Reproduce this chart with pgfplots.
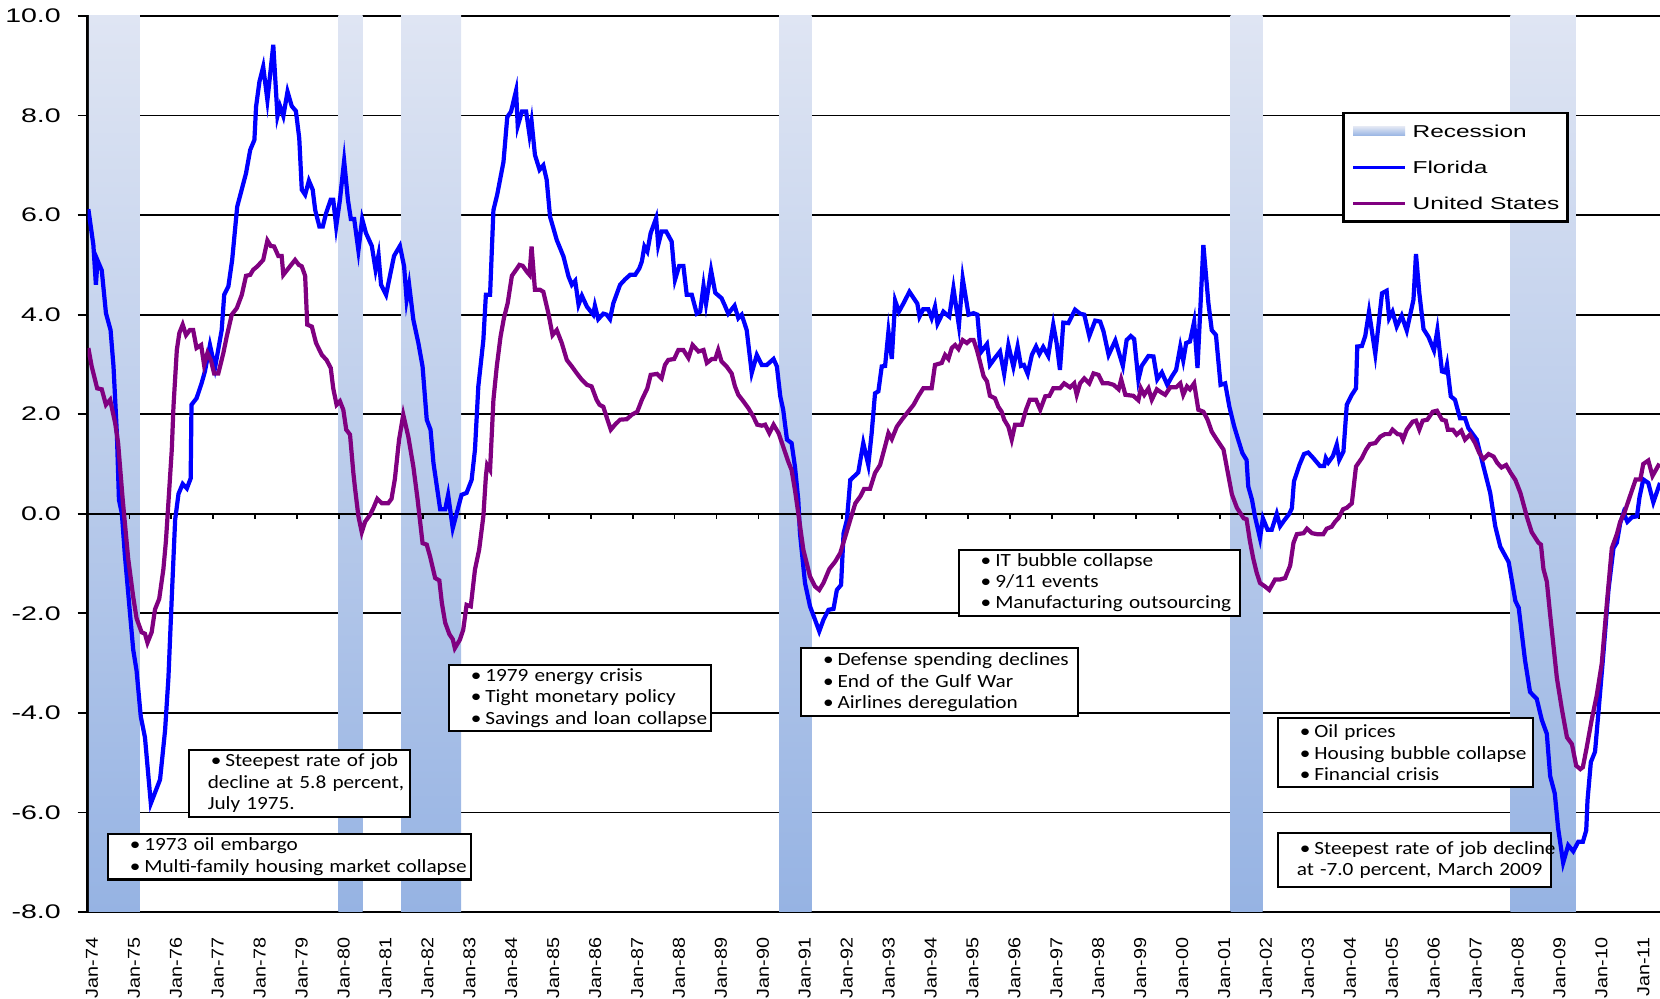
\documentclass[border=0pt]{standalone}
\usepackage{fontspec}
\setmainfont{Liberation Sans}
\newfontfamily\yfont{Liberation Sans}[FakeStretch=1.45]
\newfontfamily\xfont{Liberation Sans}[FakeStretch=1.15]
\newfontfamily\legfont{Liberation Sans}[FakeStretch=1.42]
\newfontfamily\annfont{Carlito}[FakeStretch=1.14]
\usepackage{pgfplots}
\pgfplotsset{compat=1.18}

\definecolor{florida}{RGB}{0,0,255}
\definecolor{usa}{RGB}{128,0,128}
\definecolor{bandtop}{RGB}{223,229,243}
\definecolor{bandbot}{RGB}{150,179,227}

\tikzset{annbox/.style={draw=black, line width=0.6pt, fill=white, inner sep=0pt,
  align=left, anchor=north west, font=\annfont\fontsize{5.3}{6.1}\selectfont}}
\newcommand{\bl}[1]{\mbox{\hspace*{0.22cm}\textbullet\hspace{0.04cm}#1}}
\newcommand{\cl}[1]{\mbox{\hspace*{0.19cm}#1}}

\begin{document}
\begin{tikzpicture}
\useasboundingbox (0,0) rectangle (16.6cm,9.99cm);
\begin{axis}[
    at={(0.875cm,0.87cm)}, anchor=south west,
    scale only axis, width=15.725cm, height=8.96cm,
    xmin=1974, xmax=2011.5, ymin=-8, ymax=10,
    axis y line*=left, axis x line*=bottom,
    x axis line style={draw=none},
    y axis line style={black, line width=0.7pt},
    no markers,
    ytick={-8,-6,...,10},
    yticklabels={-8.0,-6.0,-4.0,-2.0,0.0,2.0,4.0,6.0,8.0,10.0},
    xtick={1974,...,2011},
    xticklabels={Jan-74,Jan-75,Jan-76,Jan-77,Jan-78,Jan-79,Jan-80,Jan-81,Jan-82,Jan-83,
      Jan-84,Jan-85,Jan-86,Jan-87,Jan-88,Jan-89,Jan-90,Jan-91,Jan-92,Jan-93,Jan-94,
      Jan-95,Jan-96,Jan-97,Jan-98,Jan-99,Jan-00,Jan-01,Jan-02,Jan-03,Jan-04,Jan-05,
      Jan-06,Jan-07,Jan-08,Jan-09,Jan-10,Jan-11},
    ymajorgrids, grid style={black, line width=0.5pt},
    tick align=outside, major tick length=0.1cm,
    xtick style={draw=none}, ytick style={black, line width=0.5pt},
    yticklabel style={font=\yfont\fontsize{5.6}{6}\selectfont, inner sep=0pt, xshift=-0.16cm},
    xticklabel style={font=\xfont\fontsize{4.9}{5.5}\selectfont, inner sep=0pt,
      yshift=-0.15cm, xshift=0.045cm, rotate=90, anchor=east},
    legend style={at={(0.798,0.893)}, anchor=north west, draw=black, line width=0.7pt,
      fill=white, font=\legfont\fontsize{4.9}{5.5}\selectfont,
      inner xsep=0.08cm, inner ysep=0.12cm, row sep=0.235cm,
      nodes={inner sep=0pt, text height=0.125cm, text depth=0pt},
      /tikz/every odd column/.append style={column sep=0.06cm}},
    legend cell align=left,
]
% recession bands
\addplot[draw=none, top color=bandtop, bottom color=bandbot,
  legend image code/.code={\fill[top color=bandtop,bottom color=bandbot] (0cm,-0.045cm) rectangle (0.52cm,0.045cm);}]
  coordinates {(1974.03,-8) (1974.03,10) (1975.25,10) (1975.25,-8)};
\addlegendentry{Recession}
\addplot[draw=none, top color=bandtop, bottom color=bandbot, forget plot]
  coordinates {(1979.98,-8) (1979.98,10) (1980.56,10) (1980.56,-8)};
\addplot[draw=none, top color=bandtop, bottom color=bandbot, forget plot]
  coordinates {(1981.48,-8) (1981.48,10) (1982.91,10) (1982.91,-8)};
\addplot[draw=none, top color=bandtop, bottom color=bandbot, forget plot]
  coordinates {(1990.49,-8) (1990.49,10) (1991.27,10) (1991.27,-8)};
\addplot[draw=none, top color=bandtop, bottom color=bandbot, forget plot]
  coordinates {(2001.26,-8) (2001.26,10) (2002.02,10) (2002.02,-8)};
\addplot[draw=none, top color=bandtop, bottom color=bandbot, forget plot]
  coordinates {(2007.93,-8) (2007.93,10) (2009.49,10) (2009.49,-8)};

% zero line with its tick marks
\addplot[black, line width=0.7pt, forget plot] coordinates {(1974,0) (2011.5,0)};
\pgfplotsinvokeforeach{1975,...,2011}{\draw[black, line width=0.5pt] (axis cs:#1,0) -- ([yshift=-0.055cm]axis cs:#1,0);}

% Florida
\addplot[florida, line width=1.2pt,
  legend image code/.code={\draw[line width=0.85pt] (0cm,0cm) -- (0.52cm,0cm);}]
coordinates {
(1974.02,6.12) (1974.14,5.40) (1974.20,4.60) (1974.24,5.09) (1974.34,4.89) (1974.44,4.03)
(1974.55,3.69) (1974.62,2.96) (1974.70,1.62) (1974.75,0.28) (1974.82,0.00) (1974.89,-0.82)
(1975.09,-2.73) (1975.17,-3.15) (1975.27,-4.07) (1975.37,-4.49) (1975.51,-5.82) (1975.73,-5.34)
(1975.85,-4.35) (1975.93,-3.29) (1976.01,-1.67) (1976.09,-0.12) (1976.17,0.40) (1976.27,0.60)
(1976.37,0.51) (1976.46,0.71) (1976.48,2.19) (1976.60,2.32) (1976.72,2.62) (1976.80,2.86)
(1976.92,3.39) (1977.04,2.93) (1977.20,3.69) (1977.26,4.40) (1977.36,4.57) (1977.45,5.10)
(1977.57,6.17) (1977.78,6.84) (1977.88,7.31) (1977.98,7.51) (1978.02,8.18) (1978.10,8.68)
(1978.19,8.98) (1978.29,8.31) (1978.35,8.78) (1978.43,9.42) (1978.53,7.99) (1978.59,8.19)
(1978.67,7.99) (1978.77,8.48) (1978.87,8.19) (1978.97,8.09) (1979.05,7.54) (1979.11,6.51)
(1979.19,6.41) (1979.28,6.69) (1979.37,6.51) (1979.43,6.10) (1979.53,5.77) (1979.61,5.77)
(1979.69,6.04) (1979.80,6.31) (1979.86,6.31) (1979.93,5.77) (1980.02,6.31) (1980.12,7.09)
(1980.21,6.31) (1980.28,5.92) (1980.36,5.92) (1980.46,5.29) (1980.55,5.92) (1980.64,5.64)
(1980.78,5.38) (1980.87,4.90) (1980.94,5.20) (1981.00,4.60) (1981.12,4.40) (1981.21,4.77)
(1981.31,5.18) (1981.45,5.38) (1981.55,4.97) (1981.61,4.30) (1981.67,4.60) (1981.77,3.90)
(1981.89,3.43) (1981.99,2.96) (1982.09,1.89) (1982.18,1.69) (1982.25,1.02) (1982.41,0.09)
(1982.53,0.09) (1982.60,0.38) (1982.71,-0.29) (1982.92,0.38) (1983.04,0.42) (1983.16,0.68)
(1983.24,1.29) (1983.32,2.56) (1983.44,3.49) (1983.50,4.40) (1983.60,4.40) (1983.68,6.10)
(1983.77,6.41) (1983.92,7.07) (1984.01,7.97) (1984.10,8.08) (1984.22,8.50) (1984.26,7.79)
(1984.36,8.08) (1984.46,8.08) (1984.54,7.61) (1984.59,7.88) (1984.67,7.21) (1984.78,6.91)
(1984.87,7.00) (1984.95,6.71) (1985.03,5.97) (1985.19,5.50) (1985.35,5.17) (1985.47,4.77)
(1985.55,4.60) (1985.63,4.68) (1985.71,4.20) (1985.79,4.38) (1985.91,4.16) (1986.06,4.00)
(1986.10,4.18) (1986.18,3.91) (1986.30,4.02) (1986.38,4.00) (1986.46,3.91) (1986.54,4.23)
(1986.70,4.60) (1986.82,4.71) (1986.94,4.80) (1987.06,4.80) (1987.16,4.93) (1987.22,5.07)
(1987.28,5.37) (1987.35,5.27) (1987.43,5.64) (1987.56,5.94) (1987.61,5.40) (1987.69,5.67)
(1987.80,5.67) (1987.93,5.47) (1988.01,4.70) (1988.11,4.98) (1988.21,4.98) (1988.29,4.40)
(1988.41,4.40) (1988.53,4.02) (1988.61,4.06) (1988.69,4.58) (1988.75,4.22) (1988.87,4.89)
(1988.97,4.44) (1989.12,4.33) (1989.20,4.18) (1989.28,4.02) (1989.43,4.18) (1989.52,3.93)
(1989.60,4.00) (1989.72,3.69) (1989.84,2.83) (1989.96,3.19) (1990.08,2.99) (1990.20,2.99)
(1990.36,3.11) (1990.44,2.96) (1990.52,2.36) (1990.59,2.09) (1990.68,1.49) (1990.79,1.42)
(1990.87,0.95) (1990.95,0.28) (1990.99,-0.39) (1991.11,-1.39) (1991.23,-1.86) (1991.35,-2.13)
(1991.45,-2.36) (1991.55,-2.13) (1991.67,-1.93) (1991.79,-1.91) (1991.87,-1.53) (1991.97,-1.43)
(1992.03,-0.39) (1992.11,-0.12) (1992.19,0.68) (1992.28,0.75) (1992.38,0.83) (1992.50,1.42)
(1992.62,0.98) (1992.70,1.62) (1992.78,2.42) (1992.86,2.46) (1992.94,2.96) (1993.02,2.97)
(1993.10,3.66) (1993.18,3.11) (1993.26,4.28) (1993.35,4.06) (1993.46,4.23) (1993.60,4.46)
(1993.79,4.22) (1993.84,3.96) (1993.93,4.11) (1994.05,4.11) (1994.13,3.93) (1994.21,4.16)
(1994.27,3.82) (1994.41,4.06) (1994.49,4.00) (1994.55,3.96) (1994.65,4.53) (1994.78,3.78)
(1994.87,4.73) (1995.01,4.00) (1995.13,4.03) (1995.22,4.00) (1995.30,3.24) (1995.45,3.41)
(1995.52,2.99) (1995.64,3.13) (1995.76,3.26) (1995.86,2.81) (1995.96,3.39) (1996.08,2.95)
(1996.18,3.36) (1996.26,2.97) (1996.33,2.99) (1996.42,2.81) (1996.52,3.19) (1996.62,3.36)
(1996.70,3.21) (1996.79,3.35) (1996.91,3.17) (1997.03,3.80) (1997.11,3.43) (1997.19,2.89)
(1997.27,3.84) (1997.39,3.83) (1997.55,4.10) (1997.67,4.02) (1997.77,4.00) (1997.89,3.57)
(1998.03,3.88) (1998.15,3.86) (1998.23,3.66) (1998.35,3.19) (1998.51,3.48) (1998.69,2.97)
(1998.78,3.49) (1998.88,3.57) (1998.96,3.51) (1999.06,2.69) (1999.14,2.97) (1999.30,3.17)
(1999.42,3.16) (1999.51,2.70) (1999.62,2.84) (1999.75,2.59) (1999.86,2.76) (1999.96,2.89)
(2000.06,3.36) (2000.13,3.08) (2000.20,3.43) (2000.29,3.46) (2000.39,3.86) (2000.47,2.93)
(2000.61,5.40) (2000.73,4.23) (2000.81,3.69) (2000.91,3.59) (2001.02,2.59) (2001.13,2.62)
(2001.23,2.15) (2001.34,1.77) (2001.44,1.49) (2001.54,1.22) (2001.64,1.08) (2001.68,0.55)
(2001.77,0.28) (2001.84,-0.05) (2001.96,-0.49) (2002.03,-0.09) (2002.14,-0.32) (2002.24,-0.32)
(2002.36,0.00) (2002.44,-0.25) (2002.54,-0.13) (2002.66,0.00) (2002.72,0.11) (2002.77,0.65)
(2002.90,0.98) (2003.01,1.20) (2003.11,1.23) (2003.23,1.12) (2003.39,0.96) (2003.49,0.96)
(2003.53,1.12) (2003.59,1.03) (2003.70,1.16) (2003.79,1.39) (2003.85,1.08) (2003.95,1.25)
(2004.03,2.19) (2004.15,2.39) (2004.25,2.52) (2004.28,3.36) (2004.39,3.37) (2004.47,3.57)
(2004.56,4.06) (2004.71,3.21) (2004.87,4.43) (2004.98,4.48) (2005.04,3.93) (2005.12,4.06)
(2005.22,3.76) (2005.34,3.98) (2005.46,3.68) (2005.62,4.30) (2005.68,5.22) (2005.76,4.43)
(2005.86,3.71) (2005.98,3.55) (2006.11,3.28) (2006.19,3.69) (2006.30,2.86) (2006.38,2.84)
(2006.42,2.99) (2006.51,2.36) (2006.61,2.29) (2006.73,1.92) (2006.85,1.92) (2006.93,1.72)
(2007.13,1.49) (2007.25,1.08) (2007.45,0.42) (2007.57,-0.25) (2007.69,-0.66) (2007.89,-0.97)
(2008.05,-1.75) (2008.13,-1.89) (2008.24,-2.66) (2008.28,-2.94) (2008.40,-3.58) (2008.56,-3.72)
(2008.68,-4.14) (2008.80,-4.42) (2008.88,-5.27) (2008.99,-5.62) (2009.07,-6.32) (2009.19,-7.01)
(2009.31,-6.66) (2009.43,-6.78) (2009.55,-6.59) (2009.66,-6.59) (2009.74,-6.36) (2009.77,-5.76)
(2009.85,-4.99) (2009.95,-4.78) (2010.03,-4.00) (2010.15,-2.80) (2010.27,-1.53) (2010.39,-0.69)
(2010.47,-0.58) (2010.55,-0.19) (2010.63,0.02) (2010.72,-0.16) (2010.83,-0.07) (2010.95,-0.05)
(2011.01,0.33) (2011.10,0.69) (2011.22,0.62) (2011.34,0.23) (2011.50,0.62)
};
\addlegendentry{Florida}

% United States
\addplot[usa, line width=1.2pt,
  legend image code/.code={\draw[line width=0.85pt] (0cm,0cm) -- (0.52cm,0cm);}]
coordinates {
(1974.02,3.33) (1974.10,2.96) (1974.18,2.69) (1974.23,2.52) (1974.34,2.50) (1974.44,2.19)
(1974.54,2.29) (1974.66,1.82) (1974.73,1.42) (1974.84,0.28) (1974.97,-0.90) (1975.09,-1.67)
(1975.17,-2.10) (1975.29,-2.38) (1975.37,-2.41) (1975.43,-2.59) (1975.53,-2.38) (1975.61,-1.92)
(1975.71,-1.71) (1975.81,-1.11) (1975.87,-0.55) (1975.93,0.23) (1976.01,1.29) (1976.05,2.15)
(1976.13,3.29) (1976.19,3.63) (1976.27,3.80) (1976.35,3.59) (1976.44,3.69) (1976.52,3.69)
(1976.60,3.33) (1976.71,3.39) (1976.78,2.99) (1976.86,3.23) (1976.94,3.09) (1977.02,2.82)
(1977.12,2.82) (1977.24,3.23) (1977.32,3.56) (1977.44,4.00) (1977.56,4.13) (1977.68,4.40)
(1977.78,4.78) (1977.88,4.80) (1977.95,4.90) (1978.05,4.97) (1978.19,5.10) (1978.29,5.49)
(1978.37,5.38) (1978.45,5.37) (1978.55,5.18) (1978.63,5.18) (1978.67,4.80) (1978.79,4.93)
(1978.95,5.10) (1979.04,5.00) (1979.11,4.97) (1979.19,4.78) (1979.24,3.80) (1979.35,3.76)
(1979.45,3.43) (1979.59,3.19) (1979.70,3.09) (1979.80,2.93) (1979.86,2.52) (1979.94,2.19)
(1980.02,2.26) (1980.10,2.09) (1980.17,1.69) (1980.26,1.59) (1980.34,0.82) (1980.38,0.51)
(1980.46,-0.05) (1980.54,-0.37) (1980.62,-0.16) (1980.74,-0.02) (1980.82,0.12) (1980.91,0.30)
(1981.02,0.21) (1981.17,0.21) (1981.25,0.30) (1981.33,0.70) (1981.43,1.49) (1981.53,1.99)
(1981.65,1.55) (1981.77,0.95) (1981.87,0.30) (1981.99,-0.59) (1982.09,-0.62) (1982.17,-0.86)
(1982.29,-1.29) (1982.39,-1.34) (1982.45,-1.79) (1982.53,-2.19) (1982.63,-2.42) (1982.71,-2.52)
(1982.76,-2.70) (1982.88,-2.53) (1982.96,-2.33) (1983.04,-1.83) (1983.14,-1.86) (1983.24,-1.12)
(1983.34,-0.72) (1983.44,-0.05) (1983.50,0.75) (1983.53,0.98) (1983.60,0.88) (1983.68,2.29)
(1983.76,2.96) (1983.85,3.56) (1983.93,3.93) (1984.02,4.23) (1984.12,4.78) (1984.22,4.90)
(1984.30,5.00) (1984.38,4.98) (1984.47,4.87) (1984.54,4.80) (1984.59,5.37) (1984.67,4.50)
(1984.79,4.50) (1984.87,4.46) (1984.99,4.03) (1985.09,3.59) (1985.19,3.69) (1985.31,3.43)
(1985.43,3.09) (1985.55,2.96) (1985.67,2.82) (1985.79,2.69) (1985.91,2.59) (1986.02,2.56)
(1986.14,2.29) (1986.21,2.19) (1986.30,2.15) (1986.40,1.89) (1986.48,1.69) (1986.58,1.79)
(1986.70,1.89) (1986.86,1.90) (1986.98,1.99) (1987.11,2.05) (1987.22,2.29) (1987.35,2.52)
(1987.43,2.79) (1987.58,2.81) (1987.69,2.72) (1987.77,2.99) (1987.85,3.09) (1987.99,3.11)
(1988.09,3.29) (1988.21,3.29) (1988.33,3.13) (1988.43,3.39) (1988.57,3.26) (1988.69,3.29)
(1988.77,3.03) (1988.89,3.11) (1988.97,3.11) (1989.04,3.29) (1989.12,3.06) (1989.24,2.96)
(1989.36,2.82) (1989.44,2.56) (1989.52,2.39) (1989.64,2.26) (1989.76,2.12) (1989.88,1.95)
(1989.97,1.79) (1990.08,1.77) (1990.16,1.79) (1990.26,1.62) (1990.36,1.79) (1990.48,1.62)
(1990.59,1.35) (1990.71,1.05) (1990.79,0.88) (1990.87,0.48) (1990.95,0.01) (1991.07,-0.72)
(1991.23,-1.26) (1991.35,-1.46) (1991.45,-1.53) (1991.55,-1.39) (1991.69,-1.11) (1991.83,-0.96)
(1991.95,-0.79) (1992.07,-0.46) (1992.19,-0.12) (1992.31,0.21) (1992.43,0.35) (1992.52,0.50)
(1992.66,0.50) (1992.78,0.82) (1992.90,0.98) (1993.04,1.42) (1993.10,1.62) (1993.18,1.50)
(1993.30,1.75) (1993.42,1.89) (1993.54,2.02) (1993.70,2.19) (1993.81,2.36) (1993.93,2.52)
(1994.13,2.52) (1994.21,2.99) (1994.37,3.03) (1994.45,3.19) (1994.53,3.11) (1994.61,3.33)
(1994.69,3.39) (1994.77,3.31) (1994.87,3.49) (1994.97,3.43) (1995.05,3.49) (1995.13,3.49)
(1995.21,3.29) (1995.29,3.03) (1995.37,2.76) (1995.45,2.66) (1995.52,2.37) (1995.64,2.32)
(1995.72,2.15) (1995.80,2.05) (1995.86,1.89) (1995.96,1.75) (1996.04,1.49) (1996.12,1.79)
(1996.28,1.79) (1996.38,2.09) (1996.47,2.29) (1996.62,2.29) (1996.72,2.09) (1996.84,2.36)
(1996.94,2.37) (1997.03,2.52) (1997.19,2.52) (1997.29,2.62) (1997.43,2.54) (1997.53,2.62)
(1997.59,2.39) (1997.67,2.62) (1997.77,2.72) (1997.89,2.62) (1997.99,2.82) (1998.11,2.79)
(1998.21,2.62) (1998.35,2.62) (1998.47,2.59) (1998.59,2.50) (1998.65,2.70) (1998.75,2.39)
(1998.94,2.37) (1999.06,2.28) (1999.12,2.52) (1999.20,2.39) (1999.30,2.52) (1999.38,2.29)
(1999.50,2.50) (1999.60,2.44) (1999.70,2.39) (1999.82,2.54) (1999.96,2.54) (2000.06,2.62)
(2000.13,2.39) (2000.22,2.56) (2000.29,2.50) (2000.39,2.62) (2000.49,2.09) (2000.61,2.05)
(2000.71,1.89) (2000.81,1.65) (2000.93,1.49) (2001.09,1.29) (2001.21,0.75) (2001.29,0.39)
(2001.41,0.12) (2001.57,-0.09) (2001.64,-0.11) (2001.72,-0.55) (2001.80,-0.90) (2001.88,-1.18)
(2001.96,-1.39) (2002.08,-1.46) (2002.18,-1.53) (2002.32,-1.32) (2002.44,-1.32) (2002.56,-1.29)
(2002.68,-1.04) (2002.76,-0.58) (2002.84,-0.41) (2003.00,-0.39) (2003.08,-0.30) (2003.20,-0.39)
(2003.32,-0.41) (2003.47,-0.41) (2003.55,-0.30) (2003.67,-0.26) (2003.75,-0.16) (2003.83,-0.09)
(2003.94,0.09) (2004.03,0.12) (2004.15,0.21) (2004.25,0.95) (2004.39,1.12) (2004.49,1.29)
(2004.58,1.40) (2004.71,1.42) (2004.83,1.55) (2004.94,1.60) (2005.05,1.60) (2005.12,1.69)
(2005.24,1.60) (2005.32,1.59) (2005.37,1.49) (2005.46,1.69) (2005.60,1.85) (2005.68,1.87)
(2005.76,1.69) (2005.84,1.87) (2005.95,1.89) (2006.08,2.05) (2006.18,2.07) (2006.30,1.89)
(2006.39,1.87) (2006.44,1.69) (2006.56,1.69) (2006.65,1.59) (2006.76,1.67) (2006.85,1.49)
(2006.97,1.59) (2007.09,1.42) (2007.19,1.22) (2007.29,1.10) (2007.41,1.20) (2007.53,1.15)
(2007.62,1.02) (2007.72,0.93) (2007.83,0.98) (2007.94,0.82) (2008.05,0.68) (2008.17,0.42)
(2008.28,0.08) (2008.32,-0.05) (2008.44,-0.37) (2008.60,-0.58) (2008.66,-0.62) (2008.72,-1.11)
(2008.80,-1.36) (2008.88,-2.03) (2008.96,-2.66) (2009.04,-3.30) (2009.16,-3.93) (2009.28,-4.49)
(2009.40,-4.63) (2009.50,-5.06) (2009.60,-5.13) (2009.66,-5.09) (2009.75,-4.70) (2009.87,-4.14)
(2009.99,-3.65) (2010.11,-3.01) (2010.23,-1.82) (2010.35,-0.69) (2010.47,-0.41) (2010.55,-0.16)
(2010.65,0.02) (2010.79,0.37) (2010.92,0.69) (2011.03,0.69) (2011.10,1.00) (2011.22,1.07)
(2011.32,0.76) (2011.46,0.97) (2011.50,0.95)
};
\addlegendentry{United States}

% annotation boxes
\node[annbox, text width=3.63cm, minimum height=0.456cm] at (axis cs:1974.46,-6.41)
  {\bl{1973 oil embargo}\\\bl{Multi-family housing market collapse}};
\node[annbox, text width=2.21cm, minimum height=0.67cm] at (axis cs:1976.39,-4.72)
  {\bl{Steepest rate of job}\\\cl{decline at 5.8 percent,}\\\cl{July 1975.}};
\node[annbox, text width=2.62cm, minimum height=0.657cm] at (axis cs:1982.59,-3.02)
  {\bl{1979 energy crisis}\\\bl{Tight monetary policy}\\\bl{Savings and loan collapse}};
\node[annbox, text width=2.77cm, minimum height=0.68cm] at (axis cs:1990.99,-2.68)
  {\bl{Defense spending declines}\\\bl{End of the Gulf War}\\\bl{Airlines deregulation}};
\node[annbox, text width=2.81cm, minimum height=0.66cm] at (axis cs:1994.75,-0.70)
  {\bl{IT bubble collapse}\\\bl{9/11 events}\\\bl{Manufacturing outsourcing}};
\node[annbox, text width=2.55cm, minimum height=0.694cm] at (axis cs:2002.36,-4.08)
  {\bl{Oil prices}\\\bl{Housing bubble collapse}\\\bl{Financial crisis}};
\node[annbox, text width=2.73cm, minimum height=0.533cm] at (axis cs:2002.36,-6.40)
  {\bl{Steepest rate of job decline}\\\cl{at -7.0 percent, March 2009}};
\end{axis}
\end{tikzpicture}
\end{document}
